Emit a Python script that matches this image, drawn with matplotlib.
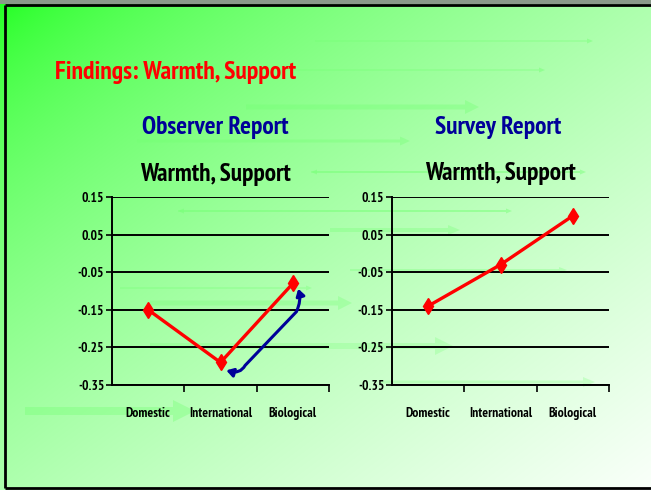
import numpy as np
import matplotlib
matplotlib.use("Agg")
import matplotlib.pyplot as plt
from matplotlib.path import Path
from matplotlib.patches import FancyArrowPatch, FancyArrow
from matplotlib import font_manager
from matplotlib.textpath import TextPath
from matplotlib.font_manager import FontProperties

# ---- data ----
categories = ["Domestic", "International", "Biological"]
observer_values = [-0.15, -0.29, -0.08]
survey_values = [-0.14, -0.03, 0.10]
yticks = [0.15, 0.05, -0.05, -0.15, -0.25, -0.35]
ytick_labels = ["0.15", "0.05", "-0.05", "-0.15", "-0.25", "-0.35"]
slide_title = "Findings: Warmth, Support"
panel_titles = ["Observer Report", "Survey Report"]
chart_titles = ["Warmth, Support", "Warmth, Support"]

# pick a bold narrow font
bold_fams = {}
for fe in font_manager.fontManager.ttflist:
    try:
        w = int(fe.weight)
    except Exception:
        w = 700 if "bold" in str(fe.weight).lower() else 400
    bold_fams.setdefault(fe.name, set()).add(w)
FONT = "DejaVu Sans"
for cand in ["Liberation Sans Narrow", "Arial Narrow", "PT Sans Narrow", "Roboto Condensed",
             "Barlow Semi Condensed", "Archivo Narrow", "Asap Condensed"]:
    if cand in bold_fams and any(w >= 700 for w in bold_fams[cand]):
        FONT = cand
        break
plt.rcParams["font.family"] = [FONT, "DejaVu Sans"]

def fit_size(text, target_px, dpi=100):
    fp = FontProperties(family=[FONT, "DejaVu Sans"], weight="bold", size=10)
    tp = TextPath((0, 0), text, prop=fp)
    wpt = tp.get_extents().width  # in points at size 10
    return 10 * target_px / (wpt * dpi / 72.0)

W, H = 651, 490
fig = plt.figure(figsize=(W / 100, H / 100), dpi=100)

# background gradient
bg = fig.add_axes([0, 0, 1, 1])
bg.set_xlim(0, W)
bg.set_ylim(H, 0)
bg.axis("off")
xx, yy = np.meshgrid(np.linspace(0, 1, 300), np.linspace(0, 1, 300))
t = np.clip((xx + yy) / 2.0, 0, 1)
f = t ** 0.6
green = np.array([0.10, 1.0, 0.10])
white = np.array([0.98, 1.0, 0.98])
img = green[None, None, :] * (1 - f[..., None]) + white[None, None, :] * f[..., None]
bg.imshow(img, extent=[0, W, H, 0], aspect="auto", zorder=0, interpolation="bilinear")

# faint decorative arrows (pixel coords)
arrow_color = (0.45, 1.0, 0.45)
def deco(x0, x1, y, w, hw, hl, a=0.45, both=False):
    bg.add_patch(FancyArrow(x0, y, x1 - x0, 0, width=w, head_width=hw, head_length=hl,
                            length_includes_head=True, color=arrow_color, alpha=a, lw=0, zorder=1))
    if both:
        bg.add_patch(FancyArrow(x1 - hl, y, -(x1 - hl - x0), 0, width=w, head_width=hw, head_length=hl,
                                length_includes_head=True, color=arrow_color, alpha=a, lw=0, zorder=1))

deco(315, 593, 41, 1.2, 5, 6)
deco(286, 545, 70, 1.2, 5, 6)
deco(246, 479, 107, 5, 14, 14, a=0.35)
deco(137, 410, 141, 3, 9, 10, a=0.35)
deco(311, 586, 172, 1.2, 5, 6, both=True)
deco(178, 512, 211, 1.2, 5, 6, both=True)
deco(330, 460, 230, 4, 10, 12, a=0.3)
deco(350, 567, 270, 2, 6, 8, a=0.3)
deco(150, 352, 303, 5, 14, 14, a=0.3)
deco(150, 453, 346, 6, 18, 18, a=0.25)
deco(380, 595, 382, 3, 10, 12, a=0.25)
deco(25, 195, 411, 8, 22, 22, a=0.35)
deco(120, 312, 288, 1.5, 5, 6, a=0.35)

# border
bg.add_patch(plt.Rectangle((0, 0), W, 4, color="#8a9a8a", zorder=2, lw=0))
bg.plot([5, 5], [5, 488], color="black", lw=2, zorder=3, solid_capstyle="butt")
bg.plot([5, W], [5, 5], color="black", lw=2, zorder=3, solid_capstyle="butt")
bg.plot([5, W], [488, 488], color="black", lw=2, zorder=3, solid_capstyle="butt")

# texts
fs_title = fit_size(slide_title, 232) * 1.03
fs_panel = fit_size(panel_titles[0], 141) * 1.03
fs_chart = fit_size(chart_titles[0], 146) * 1.03
bg.text(55, 73, slide_title, color="#ff0000", fontsize=fs_title, fontweight="bold", ha="left", va="center", zorder=4)
bg.text(215, 127, panel_titles[0], color="#000099", fontsize=fs_panel, fontweight="bold", ha="center", va="center", zorder=4)
bg.text(498, 127, panel_titles[1], color="#000099", fontsize=fs_panel, fontweight="bold", ha="center", va="center", zorder=4)
bg.text(215, 174, chart_titles[0], color="black", fontsize=fs_chart, fontweight="bold", ha="center", va="center", zorder=4)
bg.text(500, 173, chart_titles[1], color="black", fontsize=fs_chart, fontweight="bold", ha="center", va="center", zorder=4)

fs_tick = fit_size("International", 55) * 1.12

def make_axes(left_px, values):
    ax = fig.add_axes([left_px / W, 1 - 385 / H, 217 / W, 188 / H])
    ax.patch.set_alpha(0)
    x = np.arange(len(categories))
    ax.set_xlim(-0.5, len(categories) - 0.5)
    ax.set_ylim(-0.35, 0.15)
    for v in yticks:
        ax.axhline(v, color="black", lw=1.4, zorder=1)
    ax.plot(x, values, color="#ff0000", lw=2.4, marker="d", markersize=8,
            markerfacecolor="#ff0000", markeredgecolor="#ff0000", zorder=3, clip_on=False)
    ax.set_yticks(yticks)
    ax.set_yticklabels(ytick_labels, fontsize=fs_tick, fontweight="bold")
    ax.set_xticks(x)
    ax.set_xticklabels(categories, fontsize=fs_tick, fontweight="bold")
    ax.set_xticks(np.arange(len(categories)) + 0.5, minor=True)
    ax.tick_params(axis="x", which="major", length=0, pad=15.5)
    ax.tick_params(axis="x", which="minor", length=5, width=1.2, direction="out")
    ax.tick_params(axis="y", length=4, width=1.2, pad=1.5)
    for s in ["top", "right"]:
        ax.spines[s].set_visible(False)
    ax.spines["left"].set_linewidth(1.4)
    ax.spines["bottom"].set_linewidth(1.4)
    return ax

ax1 = make_axes(112, observer_values)
ax2 = make_axes(392, survey_values)

# blue curved double arrow on observer chart
verts = [(1.08, -0.311), (1.27, -0.322), (1.34, -0.298), (2.05, -0.155), (2.12, -0.125), (2.075, -0.094)]
codes = [Path.MOVETO, Path.CURVE3, Path.CURVE3, Path.LINETO, Path.CURVE3, Path.CURVE3]
arr = FancyArrowPatch(path=Path(verts, codes), arrowstyle="<|-|>,head_length=4,head_width=2.5",
                      color="#000099", lw=2.2, transform=ax1.transData, zorder=4, clip_on=False)
ax1.add_patch(arr)

fig.savefig("out.png", dpi=100)
